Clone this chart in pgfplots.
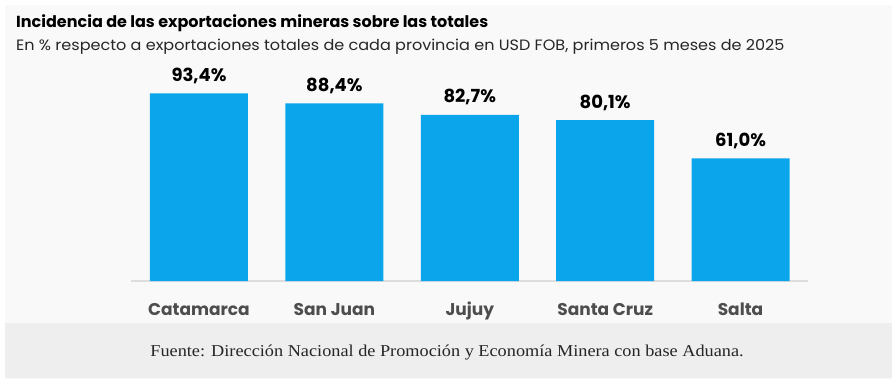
\documentclass[border=0pt]{standalone}
\usepackage{fontspec}
\setmainfont{Poppins}
\newfontfamily\footfont{Liberation Serif}
\usepackage{graphicx}
\usepackage{pgfplots}
\pgfplotsset{compat=1.18}
\definecolor{barblue}{HTML}{0BA5EC}
\definecolor{bgpanel}{HTML}{F9F9F9}
\definecolor{footbg}{HTML}{EEEEEE}
\definecolor{ticktext}{HTML}{4D4D4D}
\definecolor{baseline}{HTML}{DDDDDD}
\begin{document}
\begin{tikzpicture}[x=1pt,y=1pt]
\path[use as bounding box, fill=white] (0,0) rectangle (892,384);
\fill[bgpanel] (5,5) rectangle (892,379);
\fill[footbg] (5,6) rectangle (892,61.5);
\node[anchor=base west, inner sep=0pt, font=\bfseries\fontsize{16}{18}\selectfont] at (16,356.5) {Incidencia de las exportaciones mineras sobre las totales};
\node[anchor=base west, inner sep=0pt, font=\fontsize{15}{17}\selectfont, text=black!85] at (16,334) {\scalebox{1.07}[1]{En \% respecto a exportaciones totales de cada provincia en USD FOB, primeros 5 meses de 2025}};
\node[anchor=base, inner sep=0pt, font=\footfont\fontsize{16.6}{18}\selectfont, text=black!85] at (447,28) {\scalebox{1.1}[1]{Fuente: Dirección Nacional de Promoción y Economía Minera con base Aduana.}};
\begin{axis}[
  at={(131.3pt,103pt)}, anchor=south west,
  scale only axis, width=676.9pt, height=201pt,
  xmin=-0.5, xmax=4.5, ymin=0, ymax=100,
  hide y axis,
  axis x line=bottom,
  x axis line style={-, draw=baseline, line width=1.5pt},
  xtick={0,1,2,3,4},
  xticklabels={Catamarca, San Juan, Jujuy, Santa Cruz, Salta},
  xtick style={draw=none},
  xticklabel style={font=\bfseries\fontsize{17}{20}\selectfont, text=ticktext, anchor=base, yshift=-30.5pt, inner sep=0pt},
  ybar, bar width=98pt,
  point meta=explicit symbolic,
  nodes near coords,
  nodes near coords style={anchor=base, yshift=12pt, inner sep=0pt, font=\bfseries\fontsize{18}{20}\selectfont, text=black},
  clip=false,
]
\addplot[fill=barblue, draw=none] coordinates {(0,93.4)[93,4\%] (1,88.4)[88,4\%] (2,82.7)[82,7\%] (3,80.1)[80,1\%] (4,61.0)[61,0\%]};
\end{axis}
\end{tikzpicture}
\end{document}
